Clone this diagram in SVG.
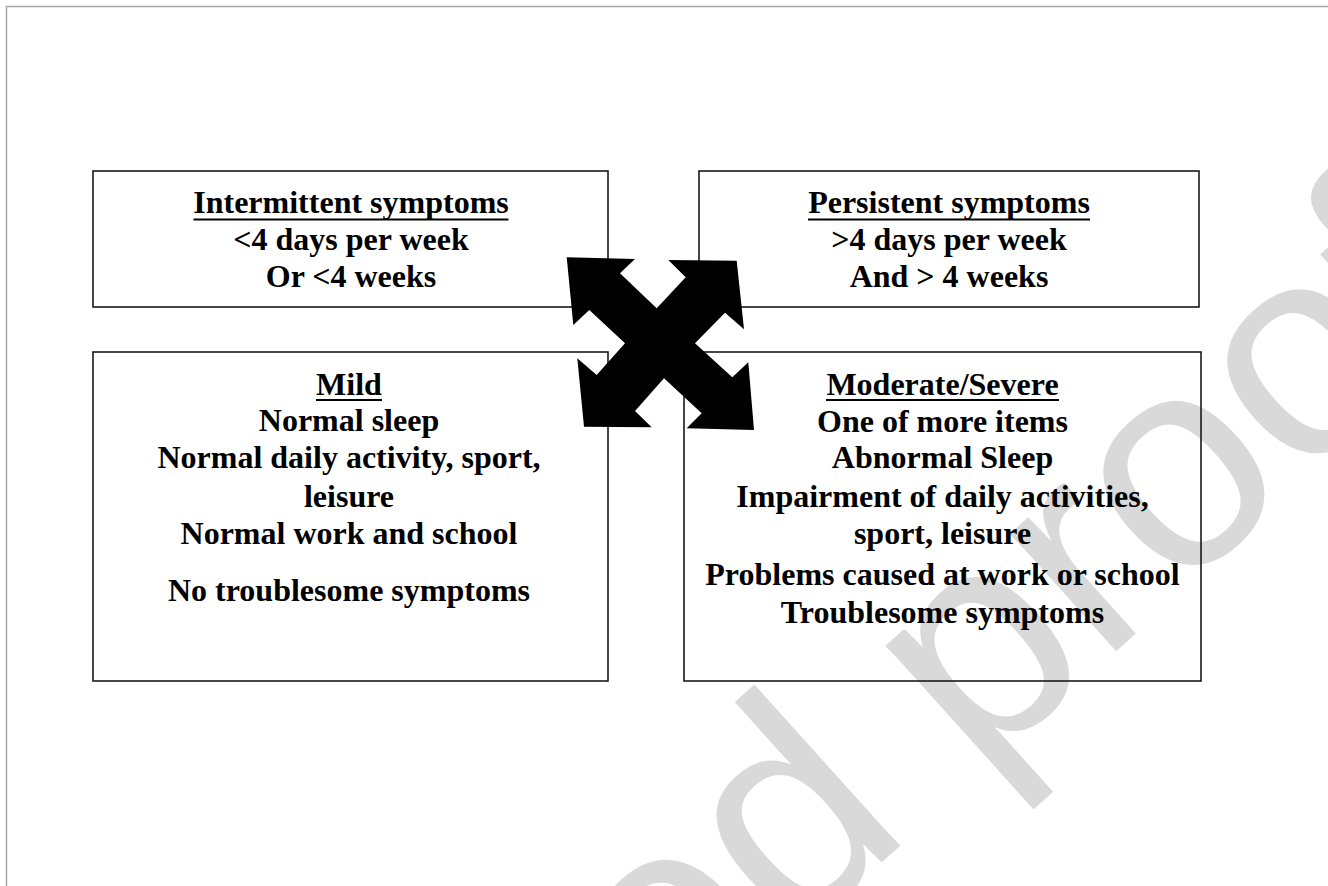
<svg xmlns="http://www.w3.org/2000/svg" width="1328" height="886" viewBox="0 0 1328 886">
<style>
.box{fill:none;stroke:#1a1a1a;stroke-width:1.6}
.t{font-family:"Liberation Serif","Times New Roman",serif;font-weight:bold;font-size:32px;fill:#000;text-anchor:middle}
.ul{stroke:#000;stroke-width:1.8}
.wm{font-family:"Liberation Sans",Arial,sans-serif;font-size:300px;fill:#d9d9d9}
</style>
<rect x="0" y="0" width="1328" height="886" fill="#fff"/>
<rect x="6.5" y="6.5" width="1400" height="1000" fill="none" stroke="#a8a8a8" stroke-width="1.5"/>
<g id="watermark">
<text class="wm" x="-167" y="0" transform="translate(791,944) rotate(-42)">ed proof</text>
</g>
<g id="intermittent">
<rect class="box" x="93" y="171" width="515" height="136"/>
<text class="t" x="351" y="213">Intermittent symptoms</text>
<line class="ul" x1="193.5" y1="219.5" x2="508.5" y2="219.5"/>
<text class="t" x="351" y="250">&lt;4 days per week</text>
<text class="t" x="351" y="287">Or &lt;4 weeks</text>
</g>
<g id="persistent">
<rect class="box" x="699" y="171" width="500" height="136"/>
<text class="t" x="949" y="213">Persistent symptoms</text>
<line class="ul" x1="808" y1="219.5" x2="1090" y2="219.5"/>
<text class="t" x="949" y="250">&gt;4 days per week</text>
<text class="t" x="949" y="287">And &gt; 4 weeks</text>
</g>
<g id="mild">
<rect class="box" x="93" y="352" width="515" height="329"/>
<text class="t" x="349" y="395">Mild</text>
<line class="ul" x1="316" y1="400" x2="382" y2="400"/>
<text class="t" x="349" y="431">Normal sleep</text>
<text class="t" x="349" y="468">Normal daily activity, sport,</text>
<text class="t" x="349" y="507">leisure</text>
<text class="t" x="349" y="544">Normal work and school</text>
<text class="t" x="349" y="601">No troublesome symptoms</text>
</g>
<g id="moderate">
<rect class="box" x="684" y="352" width="517" height="329"/>
<text class="t" x="942.5" y="395">Moderate/Severe</text>
<line class="ul" x1="826" y1="400" x2="1059" y2="400"/>
<text class="t" x="942.5" y="432">One of more items</text>
<text class="t" x="942.5" y="468">Abnormal Sleep</text>
<text class="t" x="942.5" y="507">Impairment of daily activities,</text>
<text class="t" x="942.5" y="544">sport, leisure</text>
<text class="t" x="942.5" y="585">Problems caused at work or school</text>
<text class="t" x="942.5" y="623">Troublesome symptoms</text>
</g>
<g id="connectors">
<polygon fill="#000" points="566.7,257.3 635,259 620,273.3 656.7,308.3 685.7,277.3 668.3,260 736.7,260.7 744,329.3 725,312.7 695,343.3 732.3,377.3 748.3,362.3 754,430 686.7,428.3 701.7,413.3 664,378.3 635,411 651.7,427.3 584,426.7 577.3,358.3 596.7,375 625,343.3 589.3,310 573.3,325"/>
</g>
</svg>
